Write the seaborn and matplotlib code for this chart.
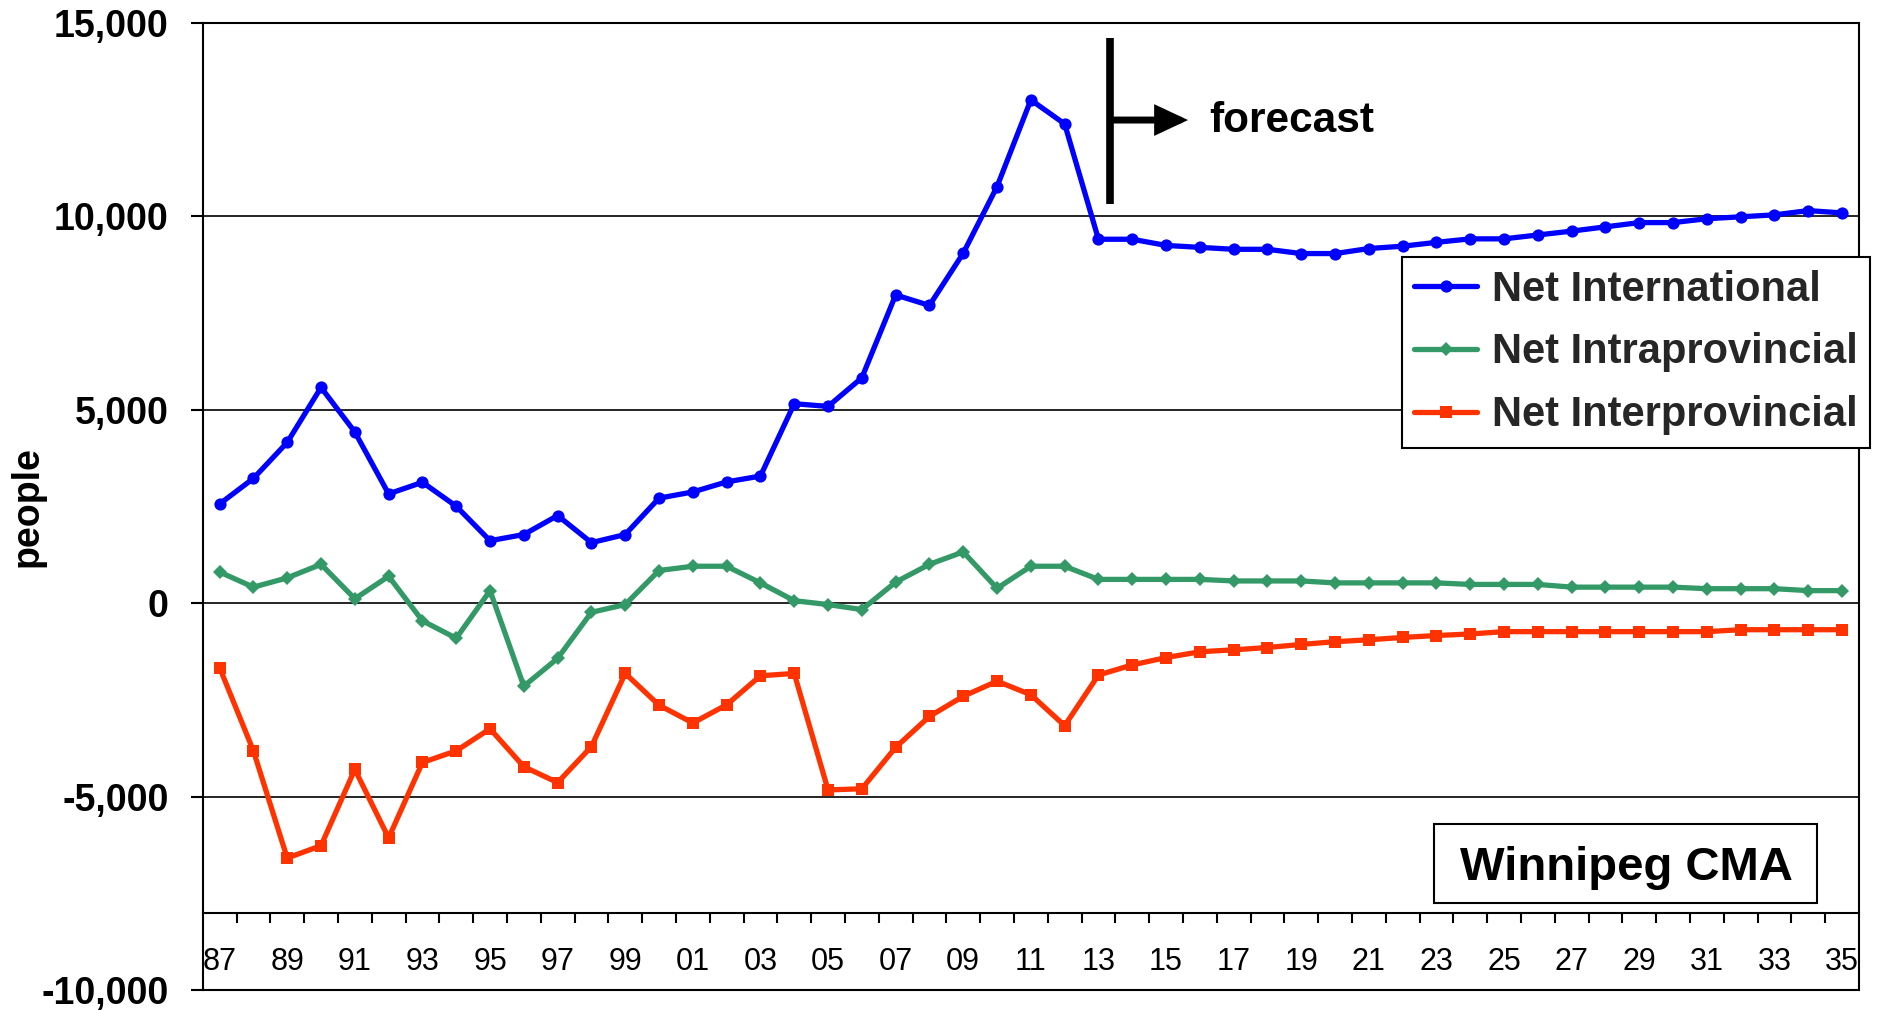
import numpy as np
import pandas as pd
import matplotlib
matplotlib.use("Agg")
import matplotlib.pyplot as plt
from matplotlib.patches import Rectangle
import seaborn as sns

# ---- data -------------------------------------------------------------
years = list(range(1987, 2036))
year_labels = [f"{y % 100:02d}" for y in years]

net_international = [
    2560, 3220, 4150, 5570, 4420, 2820, 3120, 2500, 1610, 1770,
    2260, 1560, 1770, 2710, 2870, 3130, 3280, 5150, 5080, 5820,
    7960, 7690, 9040, 10760, 13000, 12380, 9400, 9400, 9240, 9190,
    9140, 9140, 9030, 9030, 9160, 9220, 9320, 9410, 9410, 9510,
    9610, 9720, 9830, 9830, 9930, 9980, 10030, 10140, 10080,
]
net_intraprovincial = [
    800, 410, 650, 1000, 110, 690, -460, -910, 320, -2150,
    -1430, -240, -40, 840, 950, 950, 520, 60, -40, -170,
    540, 1000, 1320, 380, 950, 950, 610, 610, 610, 610,
    570, 570, 570, 520, 520, 520, 520, 480, 480, 480,
    410, 410, 410, 410, 370, 370, 370, 320, 320,
]
net_interprovincial = [
    -1670, -3820, -6590, -6270, -4300, -6070, -4120, -3820, -3250, -4230,
    -4640, -3710, -1820, -2640, -3100, -2630, -1880, -1820, -4830, -4800,
    -3730, -2930, -2410, -2020, -2370, -3170, -1860, -1600, -1410, -1260,
    -1210, -1150, -1070, -1000, -950, -890, -840, -800, -740, -740,
    -740, -740, -740, -740, -740, -690, -690, -690, -690,
]

series_names = ["Net International", "Net Intraprovincial", "Net Interprovincial"]
series_values = [net_international, net_intraprovincial, net_interprovincial]

y_ticks = [-10000, -5000, 0, 5000, 10000, 15000]
y_tick_labels = ["-10,000", "-5,000", "0", "5,000", "10,000", "15,000"]

first_forecast_year = 2013

# ---- styles -----------------------------------------------------------
series_colors = ["#0000FF", "#339966", "#FF3300"]
series_markers = ["o", "D", "s"]
series_msizes = [8.8, 7.4, 8.8]

sns.set_theme(style="white")
plt.rcParams["font.family"] = ["Liberation Sans", "DejaVu Sans"]

fig = plt.figure(figsize=(18.77, 10.10), dpi=100)
ax = fig.add_axes([0.1080, 0.0198, 0.8824, 0.9579])

pos = np.arange(len(years))
df = pd.DataFrame({
    "pos": np.tile(pos, len(series_names)),
    "series": np.repeat(series_names, len(years)),
    "people": np.concatenate(series_values),
})

for name, color, marker, ms in zip(series_names, series_colors,
                                   series_markers, series_msizes):
    sub = df[df["series"] == name]
    sns.lineplot(data=sub, x="pos", y="people", color=color, marker=marker,
                 markersize=ms, markeredgewidth=0, linewidth=3.8,
                 label=name, ax=ax, zorder=3)

# ---- axes -------------------------------------------------------------
ax.set_xlim(-0.5, len(years) - 0.5)
ax.set_ylim(y_ticks[0], y_ticks[-1])

ax.set_yticks(y_ticks)
ax.set_yticklabels(y_tick_labels, fontsize=27, fontweight="bold")
ax.tick_params(axis="y", direction="out", length=8.5, width=1.5,
               pad=16, colors="black", left=True)
ax.set_axisbelow(True)
ax.yaxis.grid(True, color="black", linewidth=1.2)
ax.xaxis.grid(False)

# category axis crosses at -8,000; ticks sit between categories
ax.spines["bottom"].set_position(("data", -8000))
ax.set_xticks(np.arange(0.5, len(years) - 1, 1.0))
ax.set_xticklabels([])
ax.set_xticks(pos[::2], minor=True)
ax.set_xticklabels(year_labels[::2], minor=True, fontsize=22)
ax.tick_params(axis="x", which="major", direction="out", length=7.2,
               width=1.5, colors="black", bottom=True)
ax.tick_params(axis="x", which="minor", length=0, pad=25,
               colors="black", bottom=True)
ax.axhline(y_ticks[0], color="black", linewidth=1.5, clip_on=False)

for side in ["left", "right", "top", "bottom"]:
    ax.spines[side].set_visible(True)
    ax.spines[side].set_color("black")
    ax.spines[side].set_linewidth(1.5)

ax.set_xlabel("")
ax.set_ylabel("people", fontsize=27, fontweight="bold", color="black")
ax.yaxis.set_label_coords(-0.0952, 0.500)

# ---- legend -----------------------------------------------------------
leg = ax.legend(loc="upper right", bbox_to_anchor=(1.0066, 0.7576),
                borderaxespad=0, frameon=True, fancybox=False,
                edgecolor="black", framealpha=1, numpoints=1,
                prop={"weight": "bold", "size": 30},
                handlelength=1.5, handletextpad=0.35,
                labelspacing=0.55, borderpad=0.3)
leg.get_frame().set_linewidth(1.5)

# ---- forecast marker --------------------------------------------------
fx = years.index(first_forecast_year) + 0.35
ax.plot([fx, fx], [10310, 14600], color="black", linewidth=5.5,
        solid_capstyle="butt", zorder=4)
ax.annotate("", xy=(fx + 2.3, 12480), xytext=(fx, 12480),
            arrowprops=dict(arrowstyle="-|>,head_length=1.6,head_width=0.75",
                            lw=5, color="black", shrinkA=0, shrinkB=0,
                            mutation_scale=10, joinstyle="miter"),
            zorder=4)
ax.text(fx + 2.94, 12180, "forecast", fontsize=30.5, fontweight="bold",
        ha="left", va="baseline", color="black")

# ---- region label -----------------------------------------------------
ax.add_patch(Rectangle((0.7434, 0.0904), 0.2312, 0.0816,
                       transform=ax.transAxes, facecolor="white",
                       edgecolor="black", linewidth=1.5, zorder=5))
ax.text(0.8593, 0.1137, "Winnipeg CMA", transform=ax.transAxes,
        fontsize=34, fontweight="bold", ha="center", va="baseline",
        color="black", zorder=6)

fig.savefig("out.png", dpi=100, facecolor="white")
